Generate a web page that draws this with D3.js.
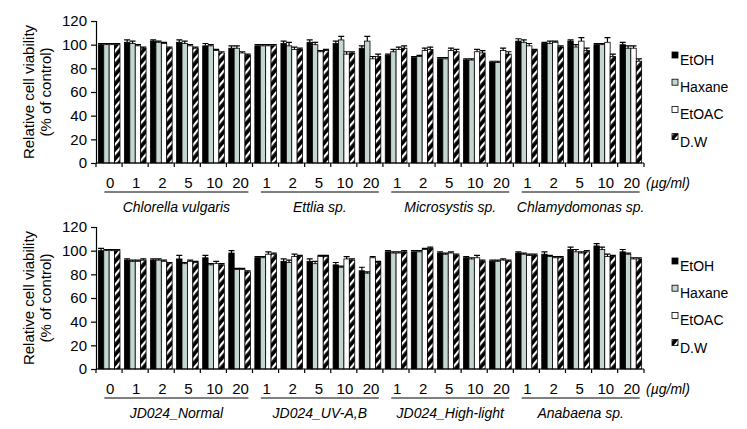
<!DOCTYPE html>
<html><head><meta charset="utf-8">
<script src="https://cdn.jsdelivr.net/npm/d3@7"></script>
<style>body{margin:0;background:#fff}text{font-family:"Liberation Sans",Arial,sans-serif}</style>
</head><body><svg id="c" width="747" height="429"></svg>
<script>
const seriesNames = ["EtOH","Haxane","EtOAC","D.W"];
const topGroups = ["Chlorella vulgaris","Ettlia sp.","Microsystis sp.","Chlamydomonas sp."];
const bottomGroups = ["JD024_Normal","JD024_UV-A,B","JD024_High-light","Anabaena sp."];
const firstDoses = ["0","1","2","5","10","20"];
const otherDoses = ["1","2","5","10","20"];
const yTicks = [0,20,40,60,80,100,120];

const topEtOH   = [100,102,103,102,99,97, 99,101,102,101,97, 91,89,88,87,85, 103,101,103,100,100];
const topHaxane = [100,101,102,101,99,97, 99,99,100,104,103, 94,90,88,87,85, 102,101,98,100,97];
const topEtOAC  = [100,99,101,99,95,93, 99,96,94,92,88, 96,95,95,94,95, 99,102,103,102,97];
const topDW     = [100,97,97,97,93,91, 99,96,95,93,90, 97,96,94,93,92, 95,98,95,90,86];
const topErrEtOH   = [1,2,1,2,2,2, 1,2,2,2,2, 1,1,1,1,1, 2,1,1,1,2];
const topErrHaxane = [1,2,1,2,1,2, 1,3,2,3,4, 2,1,1,1,1, 2,2,2,1,2];
const topErrEtOAC  = [1,1,1,1,1,1, 1,2,1,2,2, 2,2,2,2,2, 2,1,3,4,2];
const topErrDW     = [1,1,1,1,1,1, 1,1,1,1,2, 2,2,2,2,2, 1,1,2,2,2];

const botEtOH   = [100,92,92,93,94,98, 94,91,91,88,83, 99,99,98,94,91, 98,97,101,104,99];
const botHaxane = [100,91,92,89,88,84, 94,90,89,86,81, 98,99,97,93,91, 97,95,99,101,97];
const botEtOAC  = [100,91,91,91,89,84, 97,95,95,93,94, 98,101,98,94,92, 96,94,98,95,93];
const botDW     = [100,92,89,90,88,82, 97,95,95,92,90, 99,102,96,91,91, 96,94,99,95,93];
const botErrEtOH   = [2,1,1,3,2,2, 1,2,2,2,3, 1,1,1,1,1, 1,2,2,2,2];
const botErrHaxane = [1,1,1,1,1,1, 1,2,2,1,1, 1,1,1,1,1, 1,1,2,2,1];
const botErrEtOAC  = [1,1,1,1,2,1, 2,2,1,2,1, 1,1,1,2,1, 1,1,1,2,1];
const botErrDW     = [1,1,1,1,1,1, 1,1,1,1,1, 1,1,1,1,1, 1,1,1,1,1];

const svg = d3.select("#c");
const defs = svg.append("defs");
const pat = defs.append("pattern").attr("id","dw").attr("patternUnits","userSpaceOnUse")
  .attr("width",6).attr("height",6).attr("patternTransform","rotate(40)");
pat.append("rect").attr("width",6).attr("height",6).attr("fill","#000");
pat.append("rect").attr("x",0).attr("y",0).attr("width",2.2).attr("height",6).attr("fill","#fff");

const fills = ["#000","#c3d6cf","#fff","url(#dw)"];

function cats(groups){
  const out=[];
  groups.forEach((g,gi)=>{(gi===0?firstDoses:otherDoses).forEach(d=>out.push({group:g,dose:d,key:g+"|"+d}));});
  return out;
}

function panel(y0, groups, vals, errs){
  const categories = cats(groups);
  const x = d3.scaleBand().domain(categories.map(c=>c.key)).range([96,644]).paddingInner(0.17).paddingOuter(0.09);
  const xs = d3.scaleBand().domain(seriesNames).range([0,x.bandwidth()]);
  const y = d3.scaleLinear().domain([0,120]).range([y0, y0-142]);
  const g = svg.append("g");

  seriesNames.forEach((s,si)=>{
    g.selectAll(null).data(categories).enter().append("rect")
      .attr("x",(c)=>x(c.key)+xs(s)).attr("width",xs.bandwidth())
      .attr("y",(c,i)=>y(vals[si][i])).attr("height",(c,i)=>y(0)-y(vals[si][i]))
      .attr("fill",fills[si]).attr("stroke","#000").attr("stroke-width",0.8);
    // error bars
    g.selectAll(null).data(categories).enter().append("path")
      .attr("d",(c,i)=>{
        const cx=x(c.key)+xs(s)+xs.bandwidth()/2, yt=y(vals[si][i]+errs[si][i]), yb=y(vals[si][i]);
        return `M${cx},${yb}V${yt}M${cx-3},${yt}H${cx+3}`;
      }).attr("stroke","#000").attr("stroke-width",1.2).attr("fill","none");
  });

  // y axis
  const ya = g.append("g").attr("transform","translate(96,0)")
    .call(d3.axisLeft(y).tickValues(yTicks).tickSize(5).tickPadding(4));
  ya.select(".domain").attr("stroke","#000").attr("stroke-width",1.2);
  ya.selectAll("line").attr("stroke-width",1.2);
  ya.selectAll("text").attr("font-size",15).attr("fill","#000");

  // x axis line with ticks at boundaries
  const step = x.step();
  const bounds = d3.range(categories.length+1);
  g.append("line").attr("x1",96).attr("x2",644).attr("y1",y(0)).attr("y2",y(0)).attr("stroke","#000").attr("stroke-width",1.2);
  g.selectAll(null).data(bounds).enter().append("line")
    .attr("x1",i=>x(categories[Math.min(i,categories.length-1)].key)+(i===categories.length?x.bandwidth():0)+(i===categories.length? (644-(x(categories[categories.length-1].key)+x.bandwidth())) : -(x(categories[Math.min(i,categories.length-1)].key)-(96+i*step))))
    .attr("x2",function(){return d3.select(this).attr("x1");})
    .attr("y1",y(0)).attr("y2",y(0)+4).attr("stroke","#000").attr("stroke-width",1.2);

  // dose labels
  g.selectAll(null).data(categories).enter().append("text")
    .attr("x",c=>x(c.key)+x.bandwidth()/2+1).attr("y",y(0)+25).attr("text-anchor","middle")
    .attr("font-size",15).text(c=>c.dose);
  g.append("text").attr("x",646).attr("y",y(0)+25).attr("font-size",14).attr("font-style","italic").text("(µg/ml)");

  // group underline and names
  groups.forEach(gr=>{
    const cs = categories.filter(c=>c.group===gr);
    const x1 = x(cs[0].key)+2, x2 = x(cs[cs.length-1].key)+x.bandwidth();
    g.append("line").attr("x1",x1+4).attr("x2",x2-2).attr("y1",y(0)+29).attr("y2",y(0)+29).attr("stroke","#000").attr("stroke-width",1.2);
    g.append("text").attr("x",(x1+x2)/2+1).attr("y",y(0)+49).attr("text-anchor","middle")
      .attr("font-size",14).attr("font-style","italic").text(gr);
  });

  // y label
  const cy = y(60);
  g.append("text").attr("transform",`translate(34,${cy}) rotate(-90)`).attr("text-anchor","middle").attr("font-size",15).text("Relative cell viability");
  g.append("text").attr("transform",`translate(51,${cy}) rotate(-90)`).attr("text-anchor","middle").attr("font-size",15).text("(% of control)");

  // legend
  seriesNames.forEach((s,si)=>{
    const ly = y0-101+si*27.2;
    g.append("rect").attr("x",672).attr("y",ly-10).attr("width",6).attr("height",6)
      .attr("fill",fills[si]).attr("stroke","#000").attr("stroke-width",0.8);
    g.append("text").attr("x",680).attr("y",ly+3).attr("font-size",14).text(s);
  });
}

panel(163, topGroups, [topEtOH,topHaxane,topEtOAC,topDW], [topErrEtOH,topErrHaxane,topErrEtOAC,topErrDW]);
panel(369, bottomGroups, [botEtOH,botHaxane,botEtOAC,botDW], [botErrEtOH,botErrHaxane,botErrEtOAC,botErrDW]);
</script></body></html>
